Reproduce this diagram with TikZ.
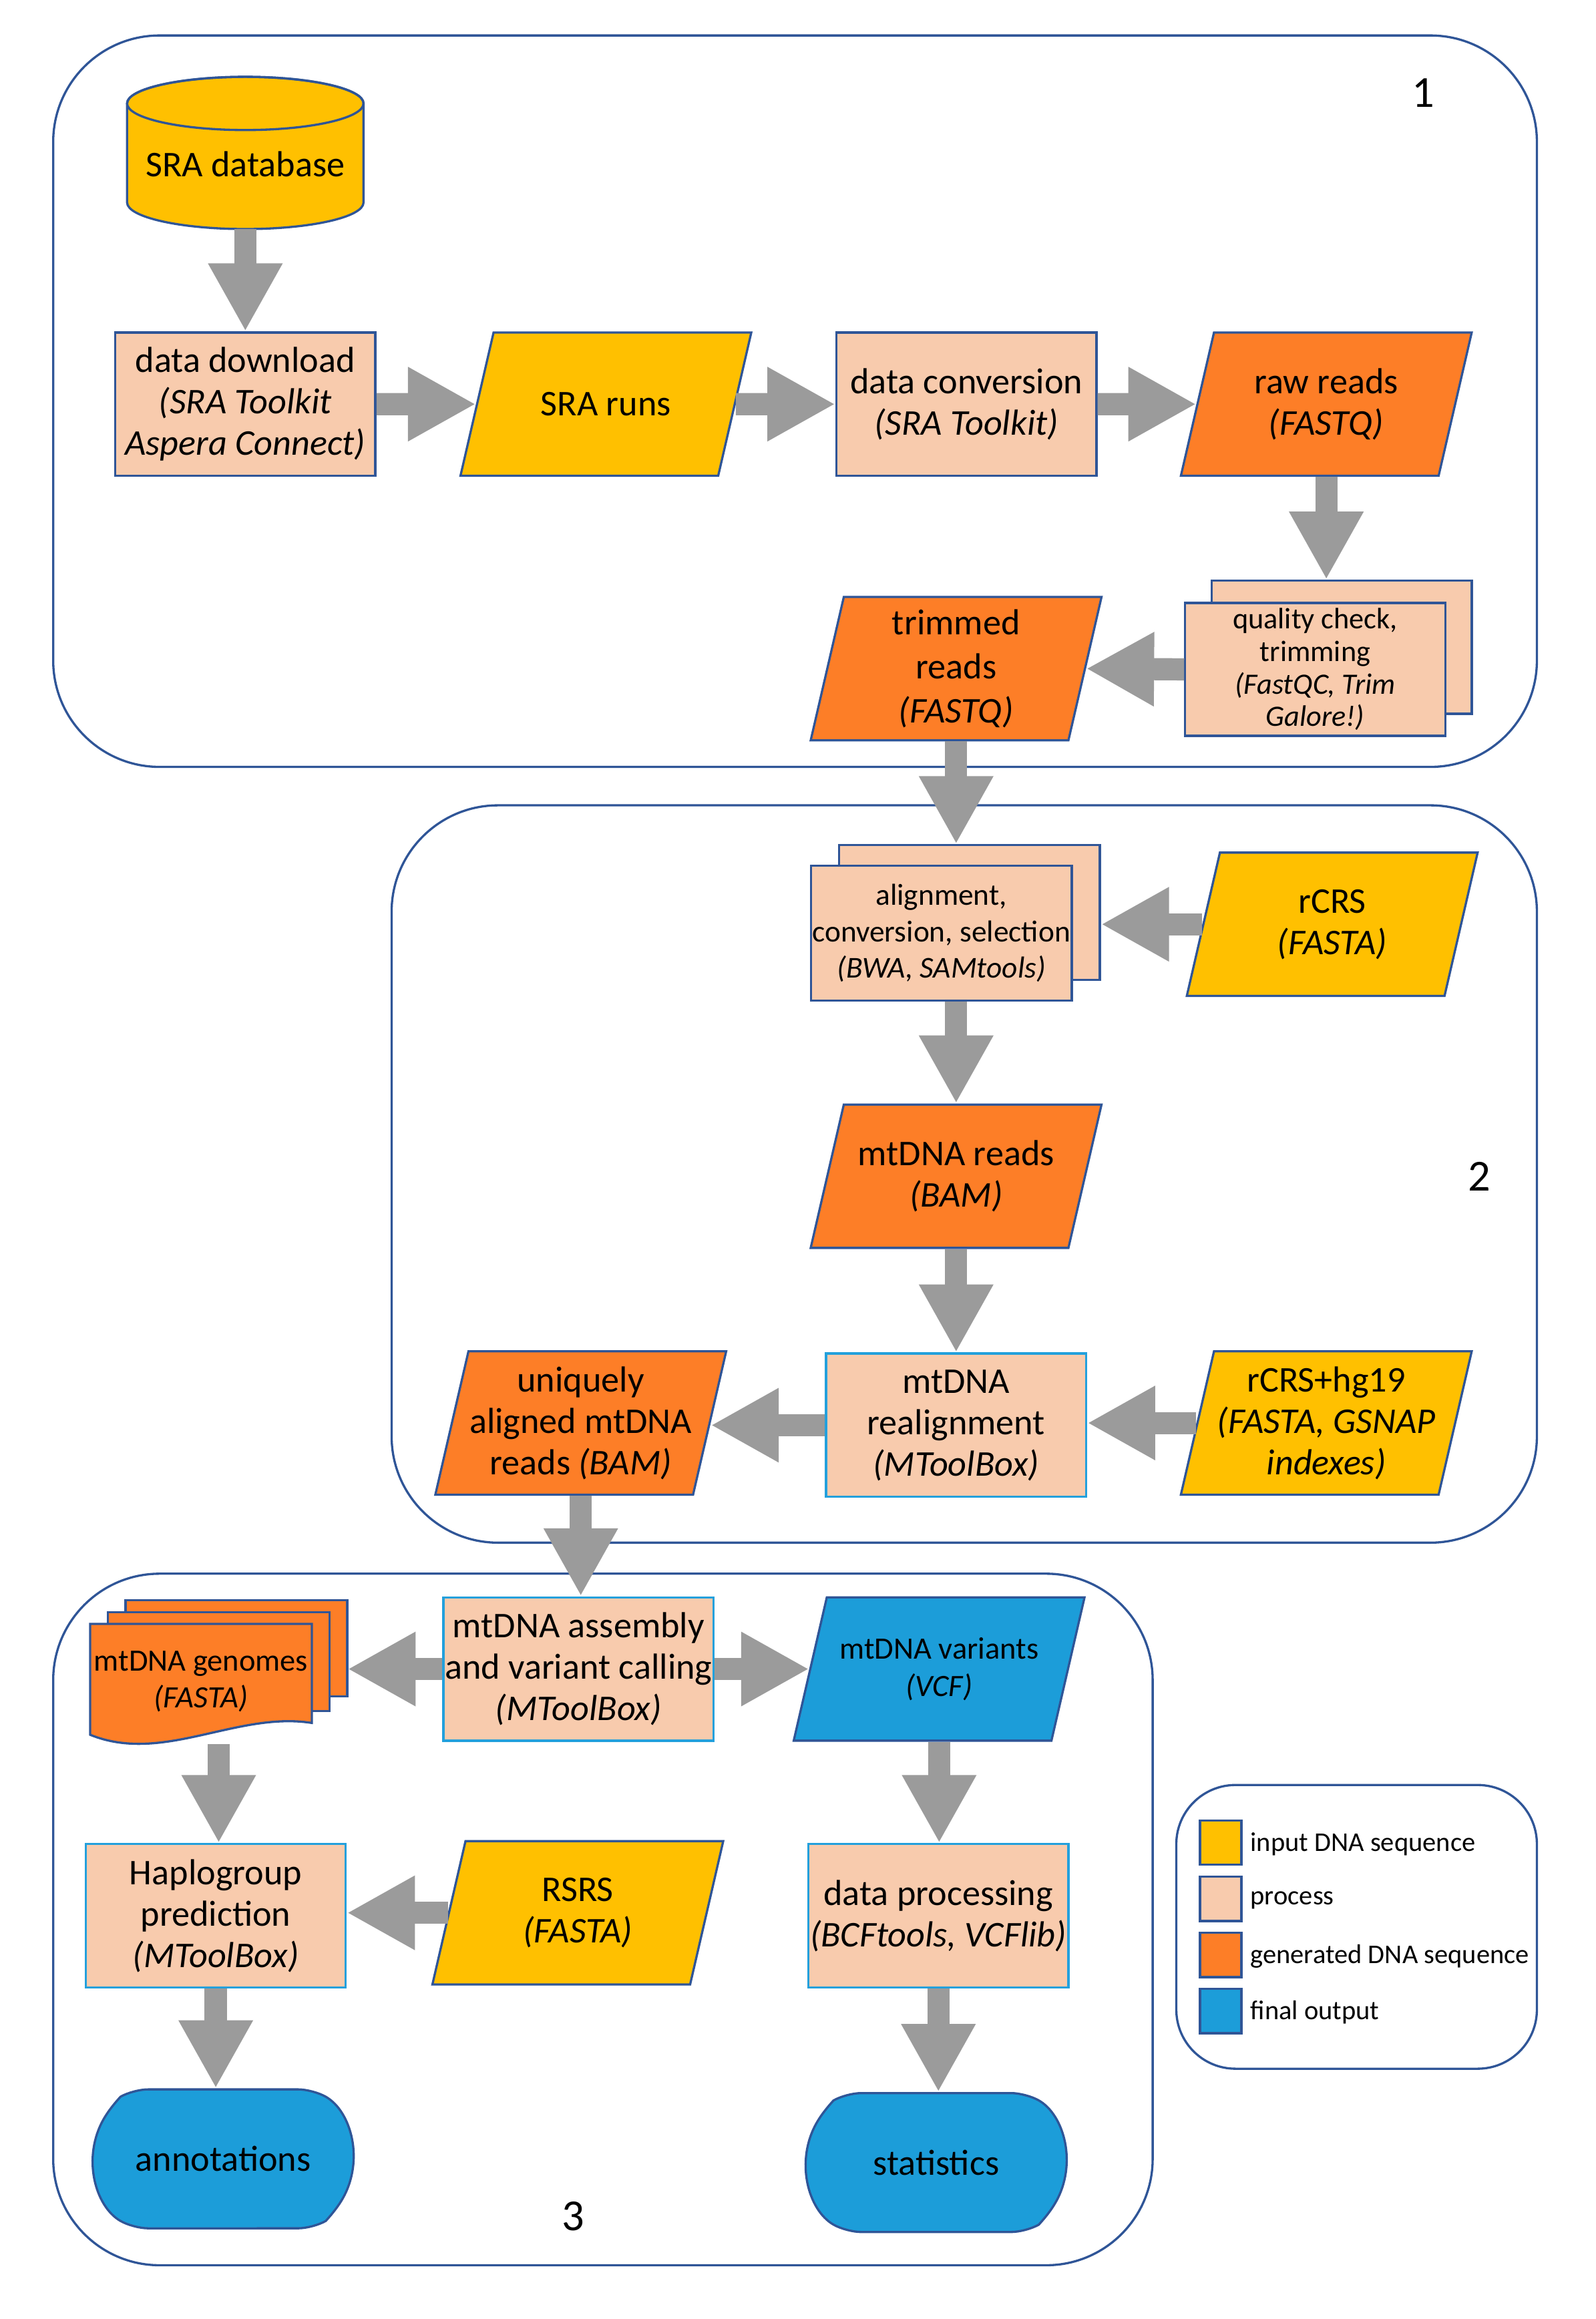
\documentclass[tikz,border=0pt]{standalone}
\usepackage{fontspec}
\setmainfont{Carlito}
\usetikzlibrary{shapes.geometric,shapes.misc,shadows,arrows.meta,calc}

\definecolor{inyellow}{HTML}{FFC000}
\definecolor{procfill}{HTML}{F8CBAD}
\definecolor{genorange}{HTML}{FD7E27}
\definecolor{finalblue}{HTML}{1C9DD9}
\definecolor{nodeblue}{HTML}{2F5597}
\definecolor{lightblue}{HTML}{23A0DC}
\definecolor{arrowgray}{HTML}{9B9B9B}

\newcommand{\fsmain}{\fontsize{24.5pt}{28pt}\selectfont}
\newcommand{\fsnote}{\fontsize{21pt}{25pt}\selectfont}
\newcommand{\fssmall}{\fontsize{20pt}{22pt}\selectfont}
\newcommand{\fsleg}{\fontsize{18.3pt}{22pt}\selectfont}
\newcommand{\fsnum}{\fontsize{30pt}{34pt}\selectfont}
% fixed text box for the slanted data nodes
\newcommand{\paratext}[1]{\parbox[c][97pt][c]{152pt}{\centering #1}}

\tikzset{
  base/.style={draw=nodeblue, line width=1.5pt, align=center, inner sep=1pt, font=\fsmain},
  process/.style={base, rectangle, fill=procfill, minimum width=176pt, minimum height=97pt},
  procalt/.style={process, draw=lightblue},
  seqio/.style={base, trapezium, trapezium left angle=77, trapezium right angle=103, inner sep=0pt},
  input/.style={seqio, fill=inyellow},
  generated/.style={seqio, fill=genorange},
  final/.style={seqio, fill=finalblue},
  terminal/.style={base, rounded rectangle, rounded rectangle arc length=120, rounded corners=10pt,
    fill=finalblue, minimum width=178pt, minimum height=94pt},
  docsheet/.style={draw=nodeblue, line width=1.5pt, fill=genorange},
  flow/.style={draw=arrowgray, line width=15pt, -{Triangle[width=47pt,length=46pt]}},
  groupframe/.style={draw=nodeblue, line width=1.5pt, rounded corners=72pt},
  swatch/.style={draw=nodeblue, line width=1.5pt, minimum width=28pt, minimum height=30pt, inner sep=0pt},
}

\begin{document}
\begin{tikzpicture}[x=1pt,y=1pt]
\useasboundingbox (0,0) rectangle (1080,-1569.4);

% group frames
\draw[groupframe] (36,-24) rectangle (1040,-519);
\draw[groupframe] (265,-545) rectangle (1040,-1044);
\draw[groupframe] (36,-1065) rectangle (780,-1533);
\draw[groupframe, rounded corners=40pt] (796,-1208) rectangle (1040,-1400);

\node[font=\fsnum] (num1) at (963,-63) {1};
\node[font=\fsnum] (num2) at (1001,-796) {2};
\node[font=\fsnum] (num3) at (388,-1500) {3};

% stage 1
% database cylinder
\node[minimum width=160pt, minimum height=103pt, inner sep=0pt] (db) at (166,-103.5) {};
\path[draw=nodeblue, fill=inyellow, line width=1.5pt] (86,-70) -- (86,-137)
  arc[start angle=180, end angle=360, x radius=80, y radius=18] -- (246,-70)
  arc[start angle=0, end angle=180, x radius=80, y radius=18] -- cycle;
\draw[nodeblue, line width=1.5pt] (166,-70) ellipse [x radius=80, y radius=18];
\node[font=\fsmain] (dbtext) at (166,-111) {SRA database};

\node[process] (dl) at (166,-273.5) {data download\\\textit{(SRA Toolkit}\\\textit{Aspera Connect)}};
\node[input] (runs) at (410,-273.5) {\paratext{SRA runs}};
\node[process] (conv) at (654,-273.5) {data conversion\\\textit{(SRA Toolkit)}};
\node[generated] (raw) at (897.5,-273.5) {\paratext{raw reads\\\textit{(FASTQ)}}};
\node[process, minimum height=90pt, font=\fssmall,
  copy shadow={shadow xshift=18pt, shadow yshift=15pt}] (qc) at (890,-453)
  {quality check,\\trimming\\\textit{(FastQC, Trim}\\\textit{Galore!)}};
\node[generated, font=\fontsize{24.5pt}{30pt}\selectfont] (trimmed) at (647,-452.5)
  {\paratext{trimmed\\reads\\\textit{(FASTQ)}}};

% stage 2
\node[process, minimum height=91pt, font=\fontsize{20.5pt}{24.5pt}\selectfont,
  copy shadow={shadow xshift=19pt, shadow yshift=14pt}] (align) at (637,-631.5)
  {alignment,\\conversion, selection\\\textit{(BWA, SAMtools)}};
\node[input] (rcrs) at (901.5,-625.5) {\paratext{rCRS\\\textit{(FASTA)}}};
\node[generated] (mtreads) at (647,-796) {\paratext{mtDNA reads\\\textit{(BAM)}}};
\node[procalt] (realign) at (647,-964.5) {mtDNA\\realignment\\\textit{(MToolBox)}};
\node[input] (hg19) at (897.5,-963) {\paratext{rCRS+hg19\\\textit{(FASTA, GSNAP}\\\textit{indexes)}}};
\node[generated] (unique) at (393,-963) {\paratext{uniquely\\aligned mtDNA\\reads \textit{(BAM)}}};

% stage 3
\node[procalt] (asm) at (391.5,-1129.5) {mtDNA assembly\\and variant calling\\\textit{(MToolBox)}};
% stacked genome documents
\node[minimum width=174pt, minimum height=97pt, inner sep=0pt] (genomes) at (148,-1131.5) {};
\draw[docsheet] (85,-1083) rectangle (235,-1148);
\draw[docsheet] (73,-1091) rectangle (223,-1158);
\draw[docsheet] (61,-1099) -- (211,-1099) -- (211,-1166)
  .. controls (160,-1158) and (110,-1194) .. (61,-1174) -- cycle;
\node[font=\fsnote, align=center] (genomestext) at (136,-1138) {mtDNA genomes\\\textit{(FASTA)}};
\node[final, font=\fsnote] (variants) at (635.5,-1129.5) {\paratext{mtDNA variants\\\textit{(VCF)}}};
\node[procalt] (haplo) at (146,-1296.5) {Haplogroup\\prediction\\\textit{(MToolBox)}};
\node[input] (rsrs) at (391,-1294.5) {\paratext{RSRS\\\textit{(FASTA)}}};
\node[procalt] (dproc) at (635,-1296.5) {data processing\\\textit{(BCFtools, VCFlib)}};
\node[terminal] (annot) at (151,-1461) {annotations};
\node[terminal] (stats) at (633.5,-1463.5) {statistics};

% legend
\foreach \col/\txt [count=\i] in {inyellow/input DNA sequence, procfill/process,
    genorange/generated DNA sequence, finalblue/final output} {
  \node[swatch, fill=\col] (leg\i) at (826,{-1247-38*(\i-1)}) {};
  \node[font=\fsleg, anchor=west, inner sep=0pt] (legtxt\i) at (846,{-1248-38*(\i-1)}) {\txt};
}

% connectors
\draw[flow] (db.south) -- (dl.north);
\draw[flow] (dl.east) -- (runs.west);
\draw[flow] (runs.east) -- (conv.west);
\draw[flow] (conv.east) -- (raw.west);
\draw[flow] (raw.south) -- ($(raw.south |- qc.north)+(0,15)$);
\draw[flow] (qc.west) -- (trimmed.east);
\draw[flow] (trimmed.south) -- ($(trimmed.south |- align.north)+(0,14)$);
\draw[flow] (rcrs.west) -- ($(rcrs.west -| align.east)+(19,0)$);
\draw[flow] (align.south -| mtreads.north) -- (mtreads.north);
\draw[flow] (mtreads.south) -- (mtreads.south |- realign.north);
\draw[flow] (hg19.west) -- (hg19.west -| realign.east);
\draw[flow] (realign.west) -- (realign.west -| unique.east);
\draw[flow] (unique.south) -- (unique.south |- asm.north);
\draw[flow] (asm.west) -- (asm.west -| genomes.east);
\draw[flow] (asm.east) -- (asm.east -| variants.west);
\draw[flow] (genomes.south) -- (genomes.south |- haplo.north);
\draw[flow] (rsrs.west) -- (rsrs.west -| haplo.east);
\draw[flow] (haplo.south) -- (haplo.south |- annot.north);
\draw[flow] (variants.south) -- (variants.south |- dproc.north);
\draw[flow] (dproc.south) -- (dproc.south |- stats.north);
\end{tikzpicture}
\end{document}
